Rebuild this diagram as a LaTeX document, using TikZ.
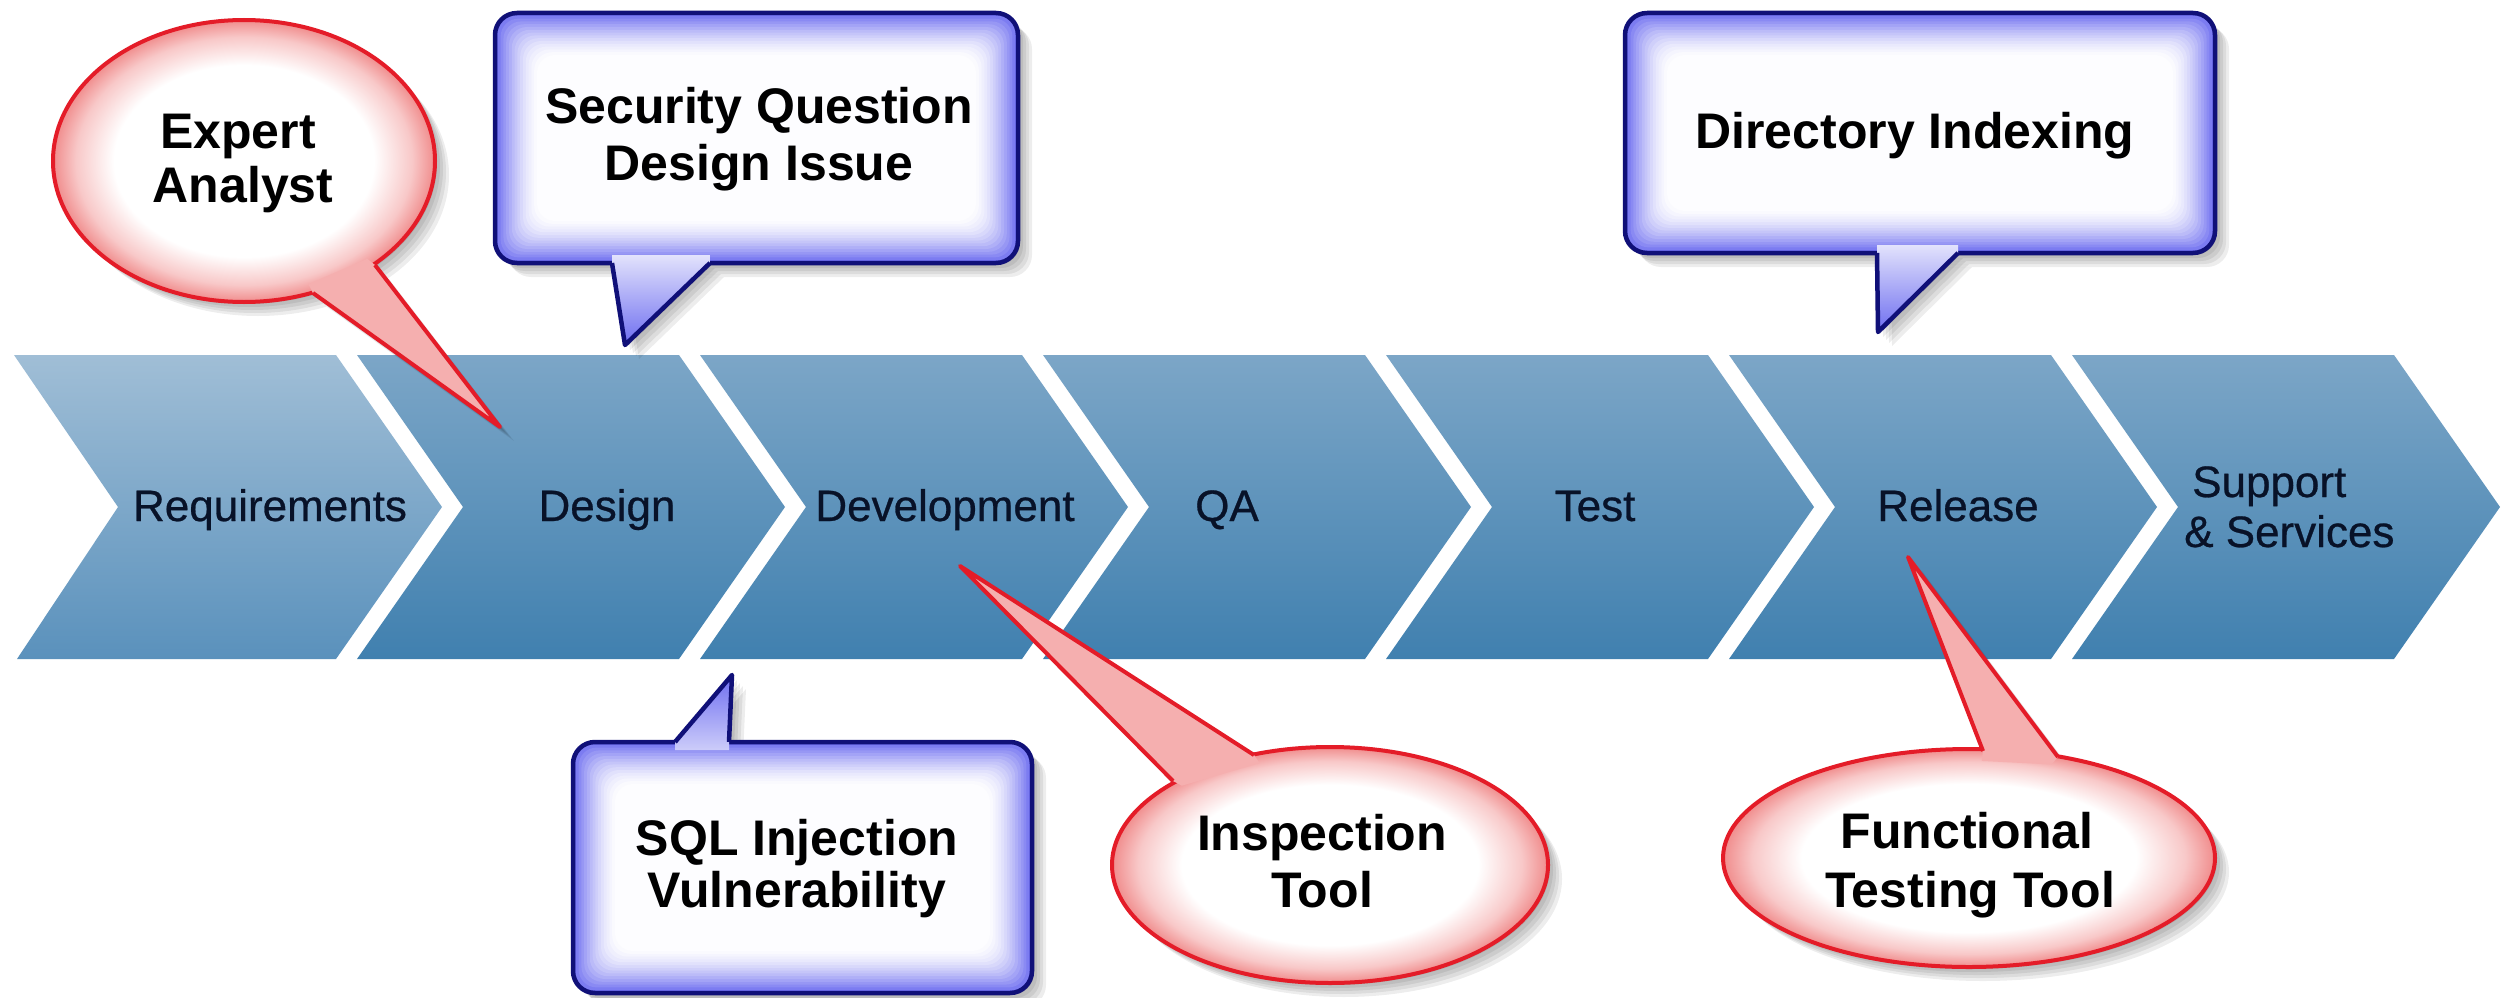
\documentclass[tikz,border=0pt]{standalone}
\usepackage{fontspec}
\setmainfont{Liberation Sans}
\newfontfamily\labfont[FakeBold=0.6]{Liberation Sans}
\usetikzlibrary{calc}
\definecolor{chevTop}{RGB}{124,166,199}
\definecolor{chevBot}{RGB}{64,128,175}
\definecolor{chevTopA}{RGB}{160,190,214}
\definecolor{chevBotA}{RGB}{90,145,188}
\definecolor{labelc}{RGB}{8,18,40}
\definecolor{cbblue}{RGB}{110,110,240}
\definecolor{cbnavy}{RGB}{16,16,120}
\definecolor{crpink}{RGB}{240,140,140}
\definecolor{crpinkmid}{RGB}{248,200,200}
\definecolor{crred}{RGB}{228,28,40}
\definecolor{crtail}{RGB}{245,175,175}
\pgfdeclareradialshading{redglow}{\pgfpoint{0bp}{0bp}}{color(0bp)=(white); color(17bp)=(white); color(22bp)=(crpinkmid); color(25bp)=(crpink); color(50bp)=(crpink)}
\tikzset{
  shadowc/.style={fill=black, opacity=0.07},
  lab/.style={font=\labfont\fontsize{44}{50}\selectfont, text=labelc, inner sep=0pt},
  callt/.style={font=\bfseries\fontsize{50}{55}\selectfont, text=black, inner sep=0pt},
  redline/.style={draw=crred, line width=4pt, line join=round},
  blueline/.style={draw=cbnavy, line width=4.5pt, line join=round},
}
\newcommand\RedCallout[3]{%
  \foreach \s in {2,5,8,11,14}{
    \fill[shadowc] ($(#1C)+(\s,\s)$) ellipse [x radius=#2pt, y radius=#3pt];
    \fill[shadowc] ($(#1A)+(\s,\s)$) -- ($(#1T)+(\s,\s)$) -- ($(#1B)+(\s,\s)$) -- cycle;
  }
  \shade[shading=redglow] (#1C) ellipse [x radius=#2pt, y radius=#3pt];
  \draw[redline] (#1C) ellipse [x radius=#2pt, y radius=#3pt];
  \fill[crtail] ($(#1A)!10pt!(#1C)$) -- (#1A) -- (#1T) -- (#1B) -- ($(#1B)!10pt!(#1C)$) -- cycle;
  \draw[redline] (#1A) -- (#1T) -- (#1B);
}
\newcommand\BlueCallout[3]{%
  \foreach \s in {2,5,8,11,14}{
    \fill[shadowc, rounded corners=22pt] ($(#1P)+(\s,\s)$) rectangle ($(#1Q)+(\s,\s)$);
    \fill[shadowc] ($(#1A)+(\s,\s)$) -- ($(#1T)+(\s,\s)$) -- ($(#1B)+(\s,\s)$) -- cycle;
  }
  \fill[cbblue, rounded corners=22pt] (#1P) rectangle (#1Q);
  \foreach \i in {1,...,15}{
    \pgfmathsetmacro\m{100*(1-\i/16)^1.6}
    \fill[cbblue!\m!white, rounded corners=18pt] ($(#1P)+(2.8*\i,2.8*\i)$) rectangle ($(#1Q)-(2.8*\i,2.8*\i)$);
  }
  \draw[blueline, rounded corners=22pt] (#1P) rectangle (#1Q);
  \shade[top color=#2, bottom color=#3] (#1a) -- (#1A) -- (#1T) -- (#1B) -- (#1b) -- cycle;
  \draw[blueline] (#1A) -- (#1T) -- (#1B);
}
\begin{document}
\begin{tikzpicture}[x=1pt,y=-1pt]
\useasboundingbox (0,0) rectangle (2511,998);
\fill[white] (0,0) rectangle (2511,998);

% ---- chevrons ----
\shade[top color=chevTopA, bottom color=chevBotA] (14,355) -- (336,355) -- (442,507) -- (336,659) -- (17,659) -- (118,507) -- cycle;
\foreach \k in {1,...,6}{
  \pgfmathsetmacro\xa{14+343*\k}
  \pgfmathsetmacro\xb{\xa+322}
  \shade[top color=chevTop, bottom color=chevBot] (\xa,355) -- (\xb,355) -- (\xb+106,507) -- (\xb,659) -- (\xa,659) -- (\xa+106,507) -- cycle;
}

% ---- chevron labels ----
\node[lab, anchor=base] (req) at (270,521) {Requirements};
\node[lab, anchor=base] (des) at (607,521) {Design};
\node[lab, anchor=base] (dev) at (945,521) {Development};
\node[lab, anchor=base] (qa)  at (1227,521) {QA};
\node[lab, anchor=base] (tst) at (1595,521) {Test};
\node[lab, anchor=base] (rel) at (1958,521) {Release};
\node[lab, anchor=base west] (sup1) at (2192,497) {Support};
\node[lab, anchor=base west] (sup2) at (2184,547) {\& Services};

% ---- red callouts ----
\coordinate (eaC) at (244,161);
\coordinate (eaA) at (313,293);
\coordinate (eaB) at (375,265);
\coordinate (eaT) at (500,427);
\RedCallout{ea}{191}{141}

\coordinate (inC) at (1330,865);
\coordinate (inA) at (1173,781);
\coordinate (inB) at (1254,755);
\coordinate (inT) at (960,566);
\RedCallout{in}{218}{118}

\coordinate (ftC) at (1969,858);
\coordinate (ftA) at (1983,751);
\coordinate (ftB) at (2058,757);
\coordinate (ftT) at (1908,557);
\RedCallout{ft}{246}{109}

% ---- blue callouts ----
\coordinate (sqP) at (495,13);
\coordinate (sqQ) at (1018,263);
\coordinate (sqA) at (612,263);
\coordinate (sqB) at (710,263);
\coordinate (sqa) at (612,255);
\coordinate (sqb) at (710,255);
\coordinate (sqT) at (625,345);
\BlueCallout{sq}{cbblue!20!white}{cbblue}

\coordinate (diP) at (1625,13);
\coordinate (diQ) at (2215,253);
\coordinate (diA) at (1877,253);
\coordinate (diB) at (1958,253);
\coordinate (dia) at (1877,245);
\coordinate (dib) at (1958,245);
\coordinate (diT) at (1878,332);
\BlueCallout{di}{cbblue!20!white}{cbblue}

\coordinate (siP) at (573,742);
\coordinate (siQ) at (1032,993);
\coordinate (siA) at (675,742);
\coordinate (siB) at (729,742);
\coordinate (sia) at (675,750);
\coordinate (sib) at (729,750);
\coordinate (siT) at (732,675);
\BlueCallout{si}{cbblue}{cbblue!35!white}

% ---- callout texts ----
\node[callt, anchor=base] (ea1) at (238,148) {Expert};
\node[callt, anchor=base] (ea2) at (243,202) {Analyst};
\node[callt, anchor=base] (sq1) at (759,123) {Security Question};
\node[callt, anchor=base] (sq2) at (759,180) {Design Issue};
\node[callt, anchor=base] (di1) at (1915,148) {Directory Indexing};
\node[callt, anchor=base] (si1) at (797,855) {SQL Injection};
\node[callt, anchor=base] (si2) at (797,907) {Vulnerability};
\node[callt, anchor=base] (in1) at (1322,850) {Inspection};
\node[callt, anchor=base] (in2) at (1322,907) {Tool};
\node[callt, anchor=base] (ft1) at (1967,848) {Functional};
\node[callt, anchor=base] (ft2) at (1970,907) {Testing Tool};
\end{tikzpicture}
\end{document}
